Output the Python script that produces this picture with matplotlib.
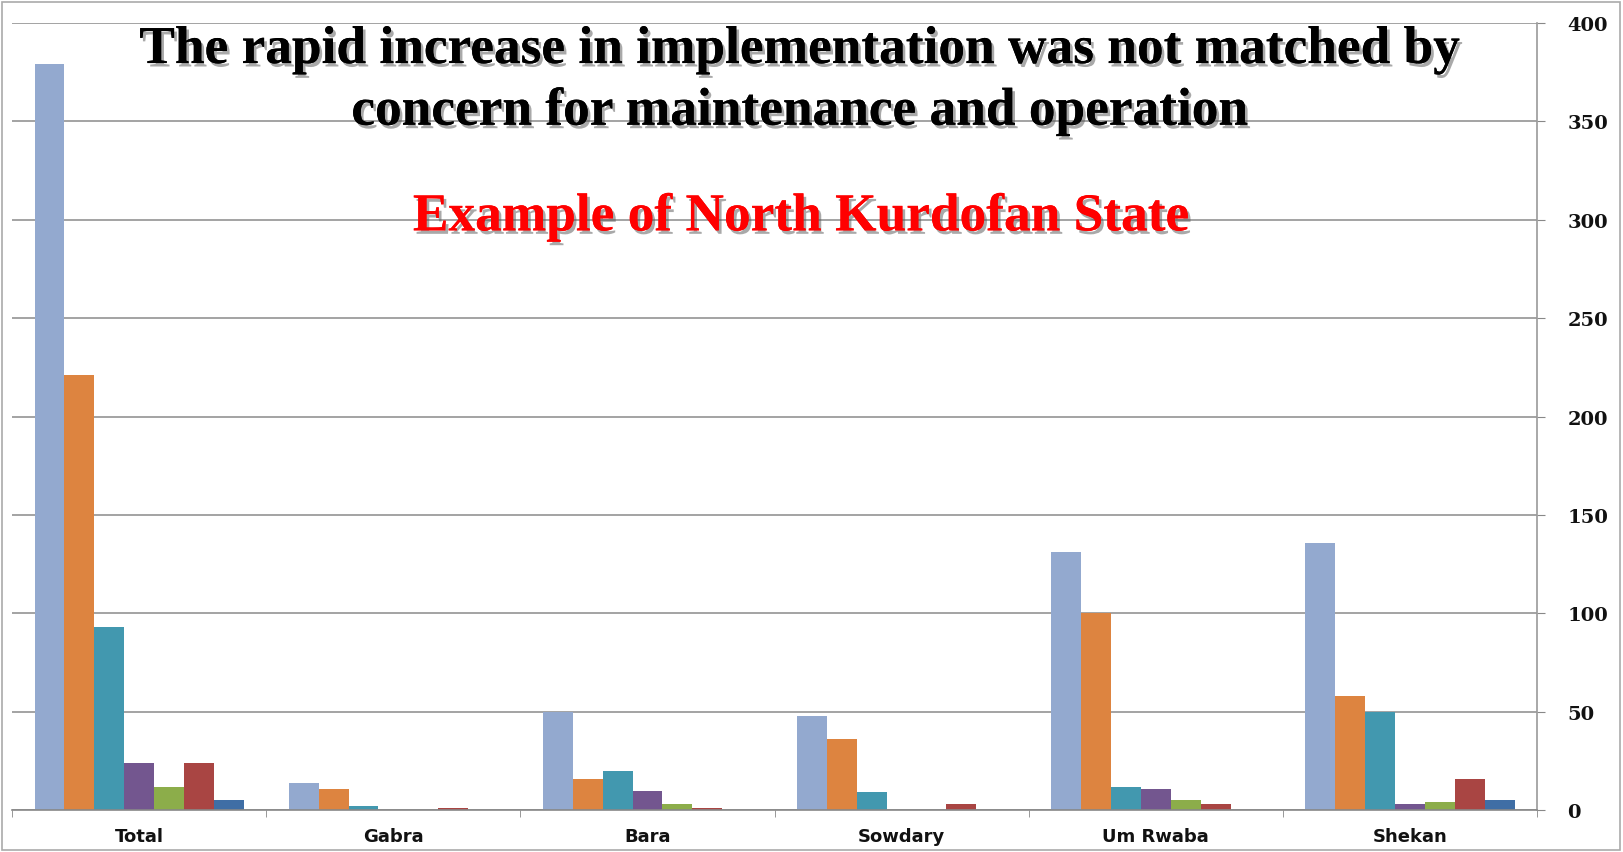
import matplotlib
matplotlib.use("Agg")
import matplotlib.pyplot as plt
import matplotlib.patheffects as pe
from matplotlib.patches import Rectangle
import numpy as np

# data
districts = ["Total", "Gabra", "Bara", "Sowdary", "Um Rwaba", "Shekan"]
s1 = [379, 14, 50, 48, 131, 136]   # light blue
s2 = [221, 11, 16, 36, 100, 58]    # orange
s3 = [93, 2, 20, 9, 12, 50]        # teal
s4 = [24, 0, 10, 0, 11, 3]         # purple
s5 = [12, 0, 3, 0, 5, 4]           # green
s6 = [24, 1, 1, 3, 3, 16]          # red
s7 = [5, 0, 0, 0, 0, 5]            # dark blue
y_ticks = [0, 50, 100, 150, 200, 250, 300, 350, 400]

title = "The rapid increase in implementation was not matched by\nconcern for maintenance and operation"
subtitle = "Example of North Kurdofan State"

series = [s1, s2, s3, s4, s5, s6, s7]
colors = ["#93A9CF", "#DD8440", "#4298AF", "#73568F", "#8CAD4A", "#A94543", "#3F6EA5"]

fig = plt.figure(figsize=(16.23, 8.53), dpi=100)
ax = fig.add_axes([0.0075, 0.049, 0.9395, 0.923])

n = len(series)
gap = 1.5   # excel gap width 150%
w = 1.0 / (n + gap)
x = np.arange(len(districts))
for i, (vals, c) in enumerate(zip(series, colors)):
    ax.bar(x - 0.5 + (gap / 2) * w + (i + 0.5) * w, vals, width=w, color=c, zorder=2)

ax.set_xlim(-0.5, len(districts) - 0.5)
ax.set_ylim(0, 400)

# value axis on the right
ax.yaxis.tick_right()
ax.set_yticks(y_ticks)
ax.set_yticklabels([str(v) for v in y_ticks], fontsize=14, fontweight="bold",
                   family="DejaVu Serif", color="#111111")
ax.tick_params(axis="y", direction="out", length=6, color="#888888", pad=16)
ax.grid(axis="y", color="#8a8a8a", linewidth=1.1, zorder=0)

# category axis: labels centred, ticks on the boundaries
ax.set_xticks(x)
ax.set_xticklabels(districts, fontsize=13, fontweight="bold", color="#111111")
ax.tick_params(axis="x", length=0, pad=12)
ax.set_xticks(np.arange(len(districts) + 1) - 0.5, minor=True)
ax.tick_params(axis="x", which="minor", direction="out", length=5, color="#888888")

for s in ["top", "left"]:
    ax.spines[s].set_visible(False)
ax.spines["right"].set_color("#999999")
ax.spines["right"].set_linewidth(1.2)
ax.spines["bottom"].set_color("#888888")
ax.spines["bottom"].set_linewidth(1.2)

shadow = [pe.withSimplePatchShadow(offset=(2, -2.5), shadow_rgbFace="#555555", alpha=0.5), pe.Normal()]
fig.text(0.4925, 0.904, title, ha="center", va="center", fontsize=38.4, fontweight="bold",
         family="Liberation Serif", color="black", linespacing=1.37, path_effects=shadow, zorder=5)
fig.text(0.4935, 0.744, subtitle, ha="center", va="center", fontsize=38.4, fontweight="bold",
         family="Liberation Serif", color="#FF0000", path_effects=shadow, zorder=5)

# thin frame around the slide
fig.patches.append(Rectangle((0.001, 0.002), 0.997, 0.994, transform=fig.transFigure,
                             fill=False, edgecolor="#aaaaaa", linewidth=1.2))

fig.savefig("out.png", dpi=100)
